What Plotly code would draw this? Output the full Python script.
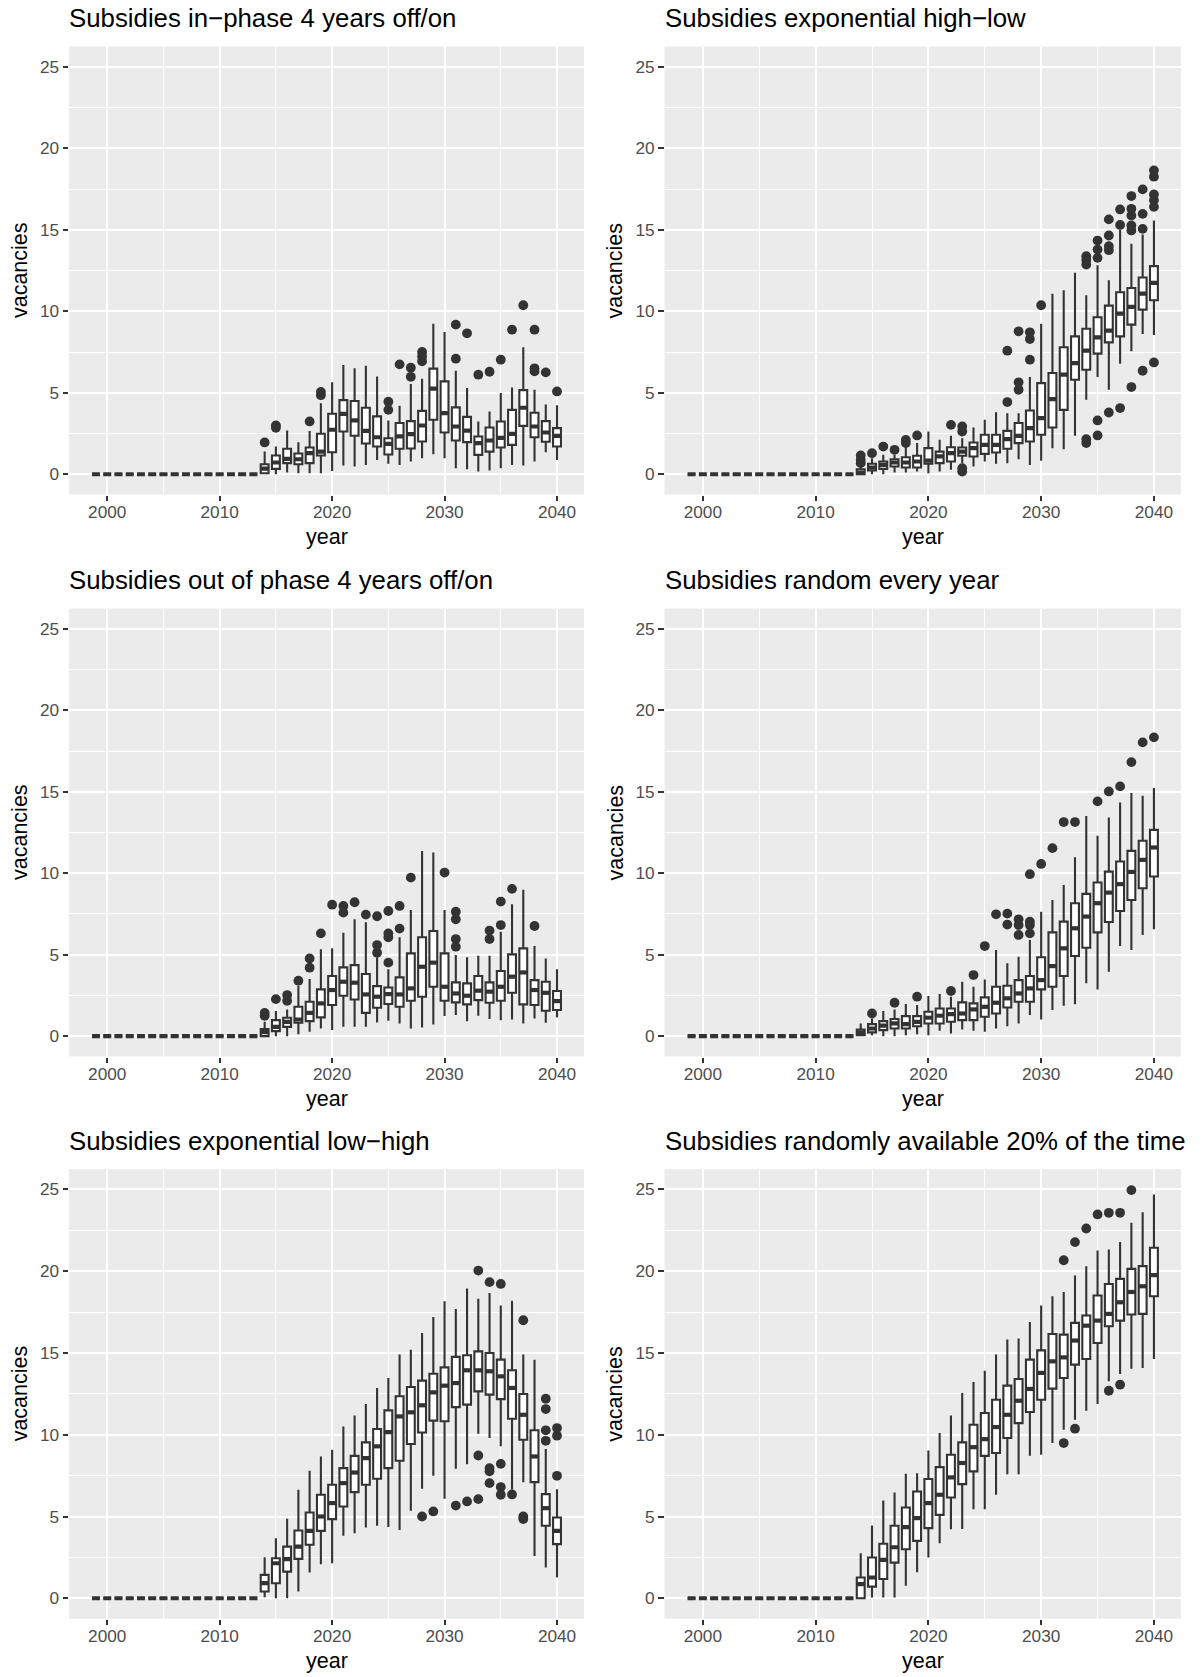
import plotly.graph_objects as go

# ---------------------------------------------------------------
# Vacancy distributions per simulated year under six subsidy schemes
# Each scheme: box statistics for 2014-2040 plus outlying runs.
# Years 1999-2013 have zero vacancies in every run.
# ---------------------------------------------------------------
pre_years = [1999, 2000, 2001, 2002, 2003, 2004, 2005, 2006, 2007, 2008,
             2009, 2010, 2011, 2012, 2013]
pre_vals = [0, 0, 0, 0, 0, 0, 0, 0, 0, 0, 0, 0, 0, 0, 0]

years = [2014, 2015, 2016, 2017, 2018, 2019, 2020, 2021, 2022, 2023,
         2024, 2025, 2026, 2027, 2028, 2029, 2030, 2031, 2032, 2033,
         2034, 2035, 2036, 2037, 2038, 2039, 2040]

x_ticks = [2000, 2010, 2020, 2030, 2040]
y_ticks = [0, 5, 10, 15, 20, 25]

# --- Subsidies in-phase 4 years off/on ---
inphase_q1 = [0.06, 0.33, 0.68, 0.61, 0.68, 1.15, 1.35, 2.62, 2.36, 1.89, 1.70, 1.21, 1.56, 1.58,
              2.01, 3.34, 2.56, 2.07, 1.97, 1.19, 1.39, 1.64, 1.80, 2.97, 2.27, 1.99, 1.70]
inphase_med = [0.35, 0.72, 0.94, 0.92, 1.29, 1.39, 2.73, 3.71, 3.30, 2.66, 2.27, 1.86, 2.32, 2.46,
               2.99, 5.25, 3.75, 2.93, 2.68, 1.91, 2.07, 2.23, 2.48, 4.08, 2.93, 2.56, 2.36]
inphase_q3 = [0.61, 1.15, 1.56, 1.27, 1.64, 2.48, 3.71, 4.55, 4.49, 4.08, 3.55, 2.21, 3.14, 3.26,
              3.89, 6.48, 5.70, 4.10, 3.52, 2.32, 2.87, 3.24, 3.95, 5.16, 3.77, 3.26, 2.83]
inphase_lo = [0.0, 0.0, 0.10, 0.06, 0.06, 0.06, 0.20, 0.53, 0.47, 0.57, 0.88, 0.64, 0.57, 0.78,
              0.98, 1.23, 0.98, 0.37, 0.31, 0.16, 0.23, 0.37, 0.57, 0.53, 0.78, 1.35, 0.88]
inphase_hi = [1.39, 1.70, 2.68, 1.97, 2.66, 4.36, 5.64, 6.70, 6.50, 6.66, 6.00, 3.30, 4.20, 5.53,
              5.86, 9.24, 8.73, 6.35, 5.29, 3.24, 3.85, 4.98, 5.33, 7.79, 5.18, 4.28, 4.24]
inphase_out_x = [2014, 2015, 2015, 2018, 2019, 2019, 2025, 2025, 2026, 2027, 2027, 2028, 2028, 2028,
                 2031, 2031, 2032, 2033, 2034, 2035, 2036, 2037, 2038, 2038, 2038, 2039, 2040]
inphase_out_y = [1.95, 2.85, 3.00, 3.24, 4.85, 5.05, 3.95, 4.45, 6.74, 5.98, 6.54, 6.93, 7.23, 7.50,
                 7.09, 9.18, 8.65, 6.11, 6.29, 7.03, 8.87, 10.37, 6.31, 6.50, 8.87, 6.25, 5.08]

# --- Subsidies exponential high-low ---
exphl_q1 = [0.0, 0.23, 0.33, 0.47, 0.41, 0.41, 0.64, 0.68, 0.78, 1.13, 1.09, 1.25, 1.33, 1.56,
            1.91, 2.01, 2.42, 2.87, 3.95, 5.80, 6.41, 7.40, 8.09, 8.46, 9.18, 10.10, 10.68]
exphl_med = [0.10, 0.41, 0.57, 0.72, 0.72, 0.78, 0.84, 1.09, 1.29, 1.39, 1.60, 1.80, 1.80, 2.15,
             2.36, 2.83, 3.44, 4.61, 6.11, 6.82, 7.58, 8.40, 8.81, 9.86, 10.27, 11.09, 11.74]
exphl_q3 = [0.31, 0.64, 0.78, 0.92, 1.04, 1.13, 1.60, 1.39, 1.66, 1.64, 1.95, 2.42, 2.42, 2.66,
            3.14, 3.91, 5.59, 6.21, 7.79, 8.46, 8.93, 9.63, 10.35, 11.17, 11.43, 12.07, 12.77]
exphl_lo = [0.0, 0.0, 0.0, 0.10, 0.10, 0.16, 0.06, 0.16, 0.27, 0.68, 0.47, 0.78, 0.64, 0.68,
            0.92, 0.57, 0.82, 1.60, 1.54, 2.36, 4.57, 5.96, 5.18, 6.78, 7.54, 8.61, 8.55]
exphl_hi = [0.50, 0.98, 1.19, 1.19, 1.70, 1.91, 2.62, 2.11, 2.36, 2.21, 2.87, 3.34, 3.81, 3.75,
            3.75, 5.96, 9.24, 11.07, 11.29, 12.36, 10.98, 12.83, 11.91, 15.00, 14.14, 14.71, 15.57]
exphl_out_x = [2014, 2014, 2014, 2015, 2016, 2017, 2018, 2018, 2019, 2022,
               2023, 2023, 2023, 2023, 2027, 2027, 2028, 2028, 2028, 2029, 2029, 2029, 2030,
               2034, 2034, 2034, 2034, 2034, 2035, 2035, 2035, 2035, 2035,
               2036, 2036, 2036, 2036, 2036, 2037, 2037, 2037,
               2038, 2038, 2038, 2038, 2038, 2038, 2039, 2039, 2039, 2039,
               2040, 2040, 2040, 2040, 2040, 2040]
exphl_out_y = [0.68, 0.88, 1.15, 1.29, 1.70, 1.50, 1.91, 2.11, 2.38, 3.03,
               0.16, 0.37, 2.62, 2.93, 4.43, 7.58, 5.18, 5.64, 8.77, 7.03, 8.30, 8.71, 10.37,
               1.91, 2.15, 12.87, 13.14, 13.38, 2.38, 3.30, 13.28, 13.79, 14.34,
               3.79, 13.75, 14.00, 14.65, 15.64, 4.06, 15.30, 16.25,
               5.35, 14.96, 15.27, 15.88, 16.29, 17.07, 6.35, 15.06, 15.98, 17.48,
               6.86, 16.41, 16.82, 17.17, 18.26, 18.65]

# --- Subsidies out of phase 4 years off/on ---
outphase_q1 = [0.0, 0.31, 0.57, 0.82, 0.92, 1.15, 1.91, 2.48, 2.25, 1.43, 1.74, 1.97, 1.80, 2.17,
               2.42, 3.03, 2.17, 2.07, 1.95, 2.21, 2.05, 2.17, 2.66, 1.95, 1.91, 1.56, 1.60]
outphase_med = [0.25, 0.57, 0.88, 1.02, 1.43, 2.01, 2.83, 3.34, 3.28, 2.56, 2.42, 2.58, 2.56, 2.93,
                4.26, 4.51, 3.03, 2.62, 2.48, 2.79, 2.73, 3.03, 3.65, 3.91, 2.83, 2.66, 2.15]
outphase_q3 = [0.43, 0.98, 1.13, 1.80, 2.11, 2.87, 3.69, 4.22, 4.36, 3.81, 3.07, 2.99, 3.61, 5.08,
               6.07, 6.45, 5.08, 3.30, 3.24, 3.69, 3.30, 4.00, 5.02, 5.39, 3.44, 3.34, 2.77]
outphase_lo = [0.0, 0.0, 0.0, 0.12, 0.27, 0.47, 0.37, 0.57, 0.57, 0.57, 0.84, 0.94, 0.78, 0.47,
               0.53, 0.72, 1.23, 1.29, 0.92, 1.25, 1.05, 0.98, 1.02, 0.78, 1.09, 0.82, 1.15]
outphase_hi = [0.88, 1.54, 1.64, 3.07, 3.50, 5.33, 5.39, 6.35, 7.17, 6.99, 4.82, 4.10, 6.07, 7.75,
               11.37, 11.27, 7.75, 4.98, 4.84, 4.94, 4.94, 6.41, 8.09, 8.98, 5.53, 4.77, 4.10]
outphase_out_x = [2014, 2014, 2015, 2016, 2016, 2017, 2018, 2018, 2019, 2020, 2021, 2021, 2022,
                  2023, 2024, 2024, 2024, 2025, 2025, 2025, 2025, 2026, 2026, 2027, 2030,
                  2031, 2031, 2031, 2031, 2034, 2034, 2035, 2035, 2036, 2038]
outphase_out_y = [1.25, 1.43, 2.27, 2.17, 2.52, 3.40, 4.20, 4.77, 6.31, 8.07, 7.58, 7.99, 8.22,
                  7.46, 5.12, 5.59, 7.36, 4.51, 6.07, 6.31, 7.68, 6.60, 7.99, 9.73, 10.04,
                  5.49, 5.96, 7.17, 7.64, 5.96, 6.48, 6.82, 8.26, 9.04, 6.76]

# --- Subsidies random every year ---
random_q1 = [0.06, 0.23, 0.37, 0.47, 0.47, 0.61, 0.78, 0.78, 0.88, 0.98, 0.98, 1.19, 1.39, 1.76,
             2.11, 2.11, 2.87, 3.03, 3.69, 4.92, 5.43, 6.37, 7.01, 7.68, 8.36, 9.08, 9.80]
random_med = [0.23, 0.47, 0.64, 0.78, 0.74, 0.88, 1.13, 1.25, 1.35, 1.39, 1.64, 1.80, 2.05, 2.32,
              2.62, 2.93, 3.44, 4.30, 5.39, 6.62, 7.34, 8.16, 8.81, 9.33, 10.08, 10.82, 11.58]
random_q3 = [0.41, 0.74, 0.92, 1.05, 1.23, 1.23, 1.50, 1.70, 1.70, 2.07, 2.01, 2.38, 3.03, 3.09,
             3.44, 3.69, 4.84, 6.37, 7.03, 8.16, 8.73, 9.43, 10.10, 10.72, 11.37, 11.99, 12.66]
random_lo = [0.0, 0.06, 0.0, 0.0, 0.06, 0.12, 0.06, 0.33, 0.16, 0.41, 0.33, 0.27, 0.47, 0.61,
             0.78, 1.29, 1.02, 1.60, 1.86, 1.95, 3.24, 2.87, 3.95, 5.53, 5.29, 6.21, 6.56]
random_hi = [0.78, 1.09, 1.54, 1.64, 1.97, 1.91, 2.46, 2.58, 2.42, 3.34, 3.03, 3.48, 5.29, 4.47,
             4.88, 5.90, 7.64, 8.36, 9.28, 10.98, 13.52, 12.30, 13.42, 14.34, 14.92, 14.75, 15.23]
random_out_x = [2015, 2017, 2019, 2022, 2024, 2025, 2026, 2027, 2027, 2028, 2028, 2028,
                2029, 2029, 2029, 2029, 2030, 2031, 2032, 2033, 2035, 2036, 2037, 2038, 2039, 2040]
random_out_y = [1.39, 2.05, 2.42, 2.77, 3.75, 5.53, 7.48, 6.85, 7.52, 6.21, 6.82, 7.17,
                6.31, 6.82, 7.03, 9.94, 10.57, 11.54, 13.14, 13.14, 14.41, 15.02, 15.33, 16.82,
                18.03, 18.34]

# --- Subsidies exponential low-high ---
explh_q1 = [0.41, 0.92, 1.63, 2.41, 3.27, 4.12, 4.84, 5.61, 6.49, 6.94, 7.31, 7.96, 8.41, 9.43,
            10.14, 10.86, 10.82, 11.69, 11.84, 12.65, 12.45, 12.18, 10.98, 9.69, 7.10, 4.43, 3.31]
explh_med = [0.92, 2.14, 2.39, 3.16, 4.12, 5.00, 5.82, 7.04, 7.69, 8.57, 9.29, 10.16, 11.12, 11.37,
             11.80, 12.59, 13.00, 13.16, 13.94, 13.94, 13.88, 13.57, 12.86, 11.22, 8.67, 5.51, 4.12]
explh_q3 = [1.43, 2.45, 3.16, 4.14, 5.24, 6.33, 6.94, 7.96, 8.71, 9.53, 10.35, 11.49, 12.35, 12.92,
            13.31, 13.73, 14.12, 14.76, 14.86, 15.10, 15.00, 14.59, 13.94, 12.49, 10.27, 6.37, 4.94]
explh_lo = [0.06, 0.0, 0.0, 0.41, 1.57, 2.08, 2.14, 3.82, 3.98, 4.33, 4.43, 4.35, 4.18, 5.35,
            6.69, 7.49, 6.08, 7.92, 8.20, 10.06, 9.80, 9.29, 6.65, 7.10, 2.59, 1.88, 1.27]
explh_hi = [2.51, 3.67, 4.86, 6.63, 7.80, 8.67, 9.08, 10.51, 11.18, 11.88, 12.86, 13.47, 14.90, 15.20,
            16.22, 17.20, 18.16, 17.69, 18.94, 18.31, 18.67, 17.90, 18.20, 14.90, 14.59, 9.12, 6.67]
explh_out_x = [2028, 2029, 2031, 2032, 2033, 2033, 2033, 2034, 2034, 2034, 2034,
               2035, 2035, 2035, 2035, 2036, 2037, 2037, 2037, 2039, 2039, 2039, 2039,
               2040, 2040, 2040]
explh_out_y = [5.00, 5.31, 5.67, 5.92, 6.06, 8.73, 20.04, 7.04, 7.76, 7.96, 19.33,
               6.33, 6.80, 8.22, 19.22, 6.35, 4.84, 5.00, 17.00, 9.63, 10.27, 11.57, 12.20,
               7.49, 9.94, 10.41]

# --- Subsidies randomly available 20% of the time ---
rand20_q1 = [0.0, 0.71, 1.18, 2.18, 3.00, 3.51, 4.29, 5.10, 6.16, 6.98, 7.76, 8.71, 8.88, 9.80,
             10.71, 11.39, 12.14, 12.82, 13.47, 14.29, 14.63, 15.61, 16.63, 16.98, 17.35, 17.39, 18.47]
rand20_med = [0.86, 1.27, 2.35, 3.12, 4.35, 4.90, 5.82, 6.33, 7.39, 8.27, 9.24, 9.73, 10.47, 11.22,
              12.08, 12.80, 13.78, 14.49, 14.73, 15.76, 16.67, 16.98, 17.39, 18.10, 18.73, 19.08, 19.76]
rand20_q3 = [1.27, 2.49, 3.33, 4.43, 5.55, 6.53, 7.29, 8.02, 8.78, 9.53, 10.61, 11.33, 12.14, 13.00,
             13.41, 14.59, 15.16, 16.16, 16.12, 16.84, 17.29, 18.51, 19.22, 19.53, 20.14, 20.31, 21.43]
rand20_lo = [0.0, 0.04, 0.04, 0.04, 0.76, 1.59, 2.49, 3.37, 4.22, 4.24, 5.45, 5.45, 6.33, 7.59,
             7.59, 8.71, 8.78, 9.49, 10.31, 10.92, 11.47, 11.88, 13.27, 13.71, 14.04, 14.08, 14.63]
rand20_hi = [2.76, 4.45, 5.98, 6.47, 7.61, 7.65, 9.04, 10.10, 11.18, 12.55, 13.22, 13.92, 14.90, 15.82,
             15.88, 16.90, 17.90, 18.47, 18.73, 19.73, 20.31, 21.27, 21.33, 21.78, 22.96, 23.61, 24.69]
rand20_out_x = [2032, 2032, 2033, 2033, 2034, 2035, 2036, 2036, 2037, 2037, 2038]
rand20_out_y = [9.49, 20.67, 10.37, 21.78, 22.61, 23.47, 12.69, 23.57, 13.06, 23.57, 24.96]

panels = [
    ("Subsidies in\u2212phase 4 years off/on",
     inphase_q1, inphase_med, inphase_q3, inphase_lo, inphase_hi, inphase_out_x, inphase_out_y),
    ("Subsidies exponential high\u2212low",
     exphl_q1, exphl_med, exphl_q3, exphl_lo, exphl_hi, exphl_out_x, exphl_out_y),
    ("Subsidies out of phase 4 years off/on",
     outphase_q1, outphase_med, outphase_q3, outphase_lo, outphase_hi, outphase_out_x, outphase_out_y),
    ("Subsidies random every year",
     random_q1, random_med, random_q3, random_lo, random_hi, random_out_x, random_out_y),
    ("Subsidies exponential low\u2212high",
     explh_q1, explh_med, explh_q3, explh_lo, explh_hi, explh_out_x, explh_out_y),
    ("Subsidies randomly available 20% of the time",
     rand20_q1, rand20_med, rand20_q3, rand20_lo, rand20_hi, rand20_out_x, rand20_out_y),
]

# ---------------- layout geometry (pixels) ----------------
W, H = 1202, 1677
col_px = [(69.0, 584.0), (664.5, 1181.0)]
row_px = [(46.5, 494.6), (608.5, 1056.5), (1169.0, 1618.7)]
X_RANGE = [1996.6, 2042.4]

FONT = "Liberation Sans, Arial, Helvetica, sans-serif"
INK = "#333333"
GRID = "#FFFFFF"
PANEL = "#EBEBEB"
BOX_W = 0.7
LINE_W = 2.1

fig = go.Figure()
layout = dict(
    width=W, height=H,
    margin=dict(l=0, r=0, t=0, b=0),
    paper_bgcolor="white",
    plot_bgcolor=PANEL,
    showlegend=False,
    font=dict(family=FONT, color="black"),
    annotations=[],
)

for i, (title, q1, med, q3, lo, hi, ox, oy) in enumerate(panels):
    r, c = divmod(i, 2)
    n = i + 1
    xa = "x" if n == 1 else f"x{n}"
    ya = "y" if n == 1 else f"y{n}"
    x0, x1 = col_px[c]
    y0, y1 = row_px[r]

    all_years = pre_years + years
    fig.add_trace(go.Box(
        x=all_years,
        q1=pre_vals + q1, median=pre_vals + med, q3=pre_vals + q3,
        lowerfence=pre_vals + lo, upperfence=pre_vals + hi,
        width=BOX_W, whiskerwidth=0, boxpoints=False,
        fillcolor="white", line=dict(color=INK, width=LINE_W),
        xaxis=xa, yaxis=ya, hoverinfo="skip", showlegend=False,
    ))

    # thicker median bar, as in ggplot's fattened median
    mx, my = [], []
    for yr, m in zip(all_years, pre_vals + med):
        mx += [yr - BOX_W / 2, yr + BOX_W / 2, None]
        my += [m, m, None]
    fig.add_trace(go.Scatter(
        x=mx, y=my, mode="lines", line=dict(color=INK, width=4.2),
        xaxis=xa, yaxis=ya, hoverinfo="skip", showlegend=False,
    ))

    fig.add_trace(go.Scatter(
        x=ox, y=oy, mode="markers",
        marker=dict(color=INK, size=9.8, line=dict(width=0)),
        xaxis=xa, yaxis=ya, hoverinfo="skip", showlegend=False,
    ))

    axis_common = dict(
        showgrid=True, gridcolor=GRID, gridwidth=2.1,
        zeroline=False, showline=False,
        ticks="outside", ticklen=5.4, tickwidth=2.1, tickcolor=INK,
        tickfont=dict(family=FONT, size=17.2, color="#4D4D4D"),
        fixedrange=True,
    )
    layout["xaxis" if n == 1 else f"xaxis{n}"] = dict(
        axis_common,
        domain=[x0 / W, x1 / W],
        range=X_RANGE,
        tickmode="array", tickvals=x_ticks, ticktext=[str(t) for t in x_ticks],
        minor=dict(showgrid=True, gridcolor=GRID, gridwidth=1.05, dtick=5, tick0=2000),
        ticklabelstandoff=-4,
        anchor=ya,
    )
    layout["yaxis" if n == 1 else f"yaxis{n}"] = dict(
        axis_common,
        domain=[1 - y1 / H, 1 - y0 / H],
        range=[-1.25, 26.25],
        tickmode="array", tickvals=y_ticks, ticktext=[str(t) for t in y_ticks],
        minor=dict(showgrid=True, gridcolor=GRID, gridwidth=1.05, dtick=2.5, tick0=0),
        anchor=xa,
    )

    # panel title
    layout["annotations"].append(dict(
        text=title, xref="paper", yref="paper",
        x=(x0 - 2) / W, y=1 - (y0 - 28.5) / H, xanchor="left", yanchor="middle",
        showarrow=False, font=dict(family=FONT, size=25.8, color="black"),
    ))
    # axis titles
    layout["annotations"].append(dict(
        text="year", xref="paper", yref="paper",
        x=(x0 + x1) / 2 / W, y=1 - (y1 + 42.5) / H, xanchor="center", yanchor="middle",
        showarrow=False, font=dict(family=FONT, size=21.5, color="black"),
    ))
    layout["annotations"].append(dict(
        text="vacancies", xref="paper", yref="paper", textangle=-90,
        x=(x0 - 49.5) / W, y=1 - (y0 + y1) / 2 / H, xanchor="center", yanchor="middle",
        showarrow=False, font=dict(family=FONT, size=21.5, color="black"),
    ))

fig.update_layout(**layout)
fig.write_html("out.html")
